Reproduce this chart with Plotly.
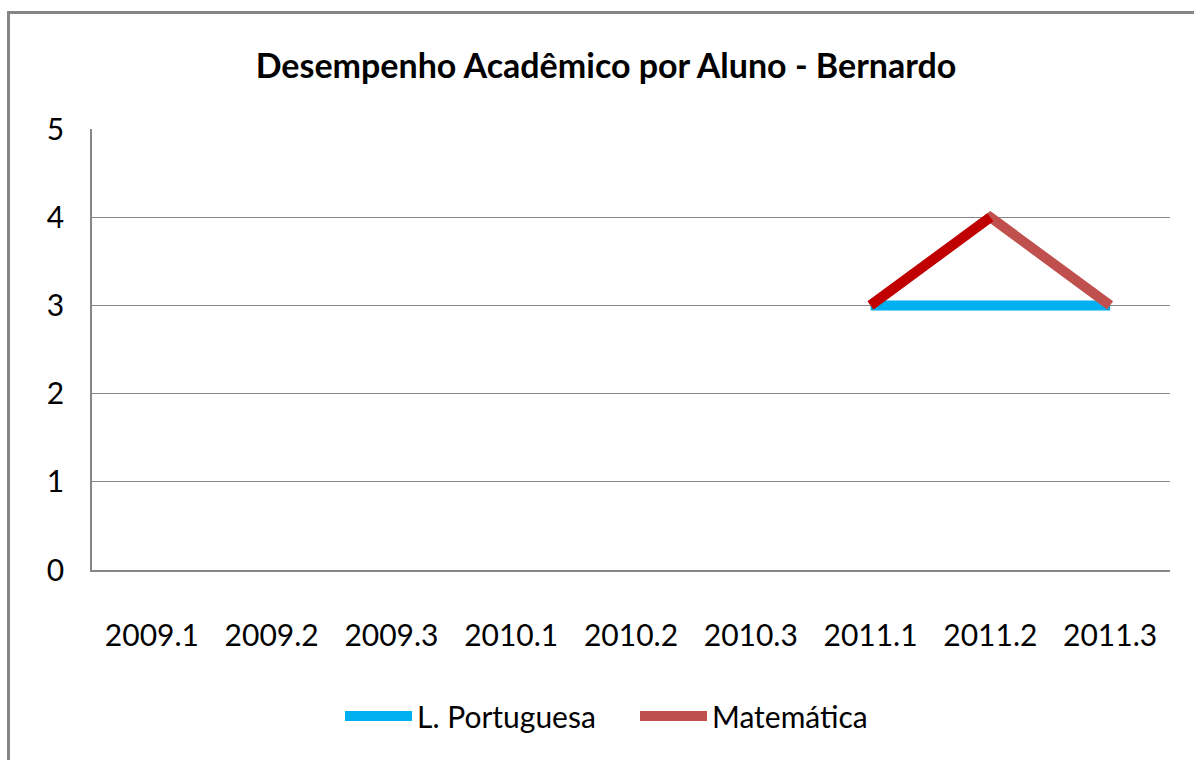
import plotly.graph_objects as go

categories = ["2009.1", "2009.2", "2009.3", "2010.1", "2010.2", "2010.3", "2011.1", "2011.2", "2011.3"]
portugues = [None, None, None, None, None, None, 3, 3, 3]
matematica = [None, None, None, None, None, None, 3, 4, 3]
y_ticks = [0, 1, 2, 3, 4, 5]

W, H = 1194, 760
L, R, T, B = 92, 24, 129, 190
pw, ph = W - L - R, H - T - B

font = "Lato, Calibri, 'Open Sans', sans-serif"

fig = go.Figure()
fig.add_trace(go.Scatter(x=categories, y=portugues, mode="lines", name="L. Portuguesa",
                         line=dict(color="#00B0F0", width=10)))
fig.add_trace(go.Scatter(x=categories, y=matematica, mode="lines", name="Matemática",
                         line=dict(color="#C0504D", width=10)))
# first segment drawn darker red, as in the original
first_seg = [v if i <= 7 else None for i, v in enumerate(matematica)]
fig.add_trace(go.Scatter(x=categories, y=first_seg, mode="lines", showlegend=False,
                         line=dict(color="#C00000", width=10), hoverinfo="skip"))

fig.update_layout(
    width=W, height=H,
    margin=dict(l=L, r=R, t=T, b=B),
    paper_bgcolor="white", plot_bgcolor="white",
    font=dict(family=font, color="#000000"),
    title=dict(text="<b>Desempenho Acadêmico por Aluno - Bernardo</b>",
               x=606 / W, xref="container", xanchor="center",
               y=1 - 66 / H, yref="container", yanchor="middle",
               font=dict(size=34, family=font, color="#000")),
    showlegend=True,
    legend=dict(orientation="h", x=340 / W, xref="container", xanchor="left",
                y=1 - 716 / H, yref="container", yanchor="middle",
                font=dict(size=30, family=font, color="#000"),
                itemwidth=67, entrywidth=213, tracegroupgap=0),
    xaxis=dict(type="category", categoryorder="array", categoryarray=categories,
               range=[-0.5, len(categories) - 0.5],
               showline=True, linecolor="#868686", linewidth=1.5,
               showgrid=False, ticks="", ticklabelstandoff=38,
               tickfont=dict(size=30, family=font, color="#000"), fixedrange=True),
    yaxis=dict(range=[0, 5], tickvals=y_ticks, showline=True, linecolor="#868686", linewidth=1.5,
               showgrid=True, gridcolor="#868686", gridwidth=1, zeroline=False, ticks="",
               ticklabelstandoff=20,
               tickfont=dict(size=30, family=font, color="#000"), fixedrange=True),
)

# outer chart frame (extends past right/bottom edges as in the reference)
fig.add_shape(type="rect", xref="paper", yref="paper",
              x0=(8.5 - L) / pw, x1=1.2, y0=-0.6, y1=1 + (T - 12.5) / ph,
              line=dict(color="#868686", width=3), fillcolor="rgba(0,0,0,0)", layer="below")

fig.write_html("out.html", config={"displayModeBar": False},
               post_script="document.body.style.margin='0';document.body.style.padding='0';")
